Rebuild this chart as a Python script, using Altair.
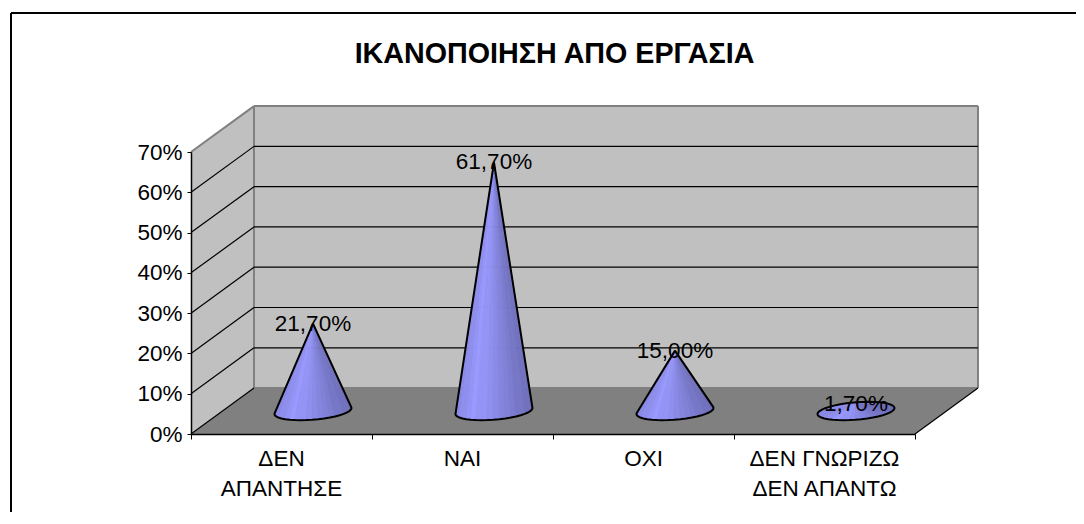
import math
import altair as alt
import pandas as pd

categories = ["ΔΕΝ\nΑΠΑΝΤΗΣΕ", "ΝΑΙ", "ΟΧΙ", "ΔΕΝ ΓΝΩΡΙΖΩ\nΔΕΝ ΑΠΑΝΤΩ"]
values = [21.7, 61.7, 15.0, 1.7]
value_labels = ["21,70%", "61,70%", "15,00%", "1,70%"]
y_ticks = [0, 10, 20, 30, 40, 50, 60, 70]
x_ticks = [0, 1, 2, 3, 4]
title_text = "ΙΚΑΝΟΠΟΙΗΣΗ ΑΠΟ ΕΡΓΑΣΙΑ"

# plot box: the front face of the 3-D chart
W, H = 724, 282
XMAX, YMAX = 4, 70
DX = 0.348   # depth offset in category units
DY = 11.4    # depth offset in percent units
PX = XMAX / W
PY = YMAX / H

x_scale = alt.Scale(domain=[0, XMAX], nice=False, zero=False)
y_scale = alt.Scale(domain=[0, YMAX], nice=False, zero=False)
x_axis = alt.Axis(values=x_ticks, labels=False, title=None, grid=False, domainColor="#000000",
                  domainWidth=1.5, tickColor="#000000", tickSize=5, tickWidth=1, zindex=1)
y_axis = alt.Axis(values=y_ticks, labelExpr="datum.value + '%'", title=None, grid=False,
                  domainColor="#000000", domainWidth=1.5, tickColor="#000000", tickSize=4, tickWidth=1,
                  labelFont="Liberation Sans", labelFontSize=22.5, labelColor="#000000", labelPadding=5, zindex=1)
X = alt.X("x:Q", scale=x_scale, axis=x_axis)
Y = alt.Y("y:Q", scale=y_scale, axis=y_axis)
Y2 = alt.Y2("y2:Q")


def band(points, fill):
    df = pd.DataFrame(points, columns=["x", "y", "y2"])
    return alt.Chart(df).mark_area(fill=fill, opacity=1).encode(x=X, y=Y, y2=Y2)


def segs(rows, color, sw):
    df = pd.DataFrame(rows, columns=["x", "y", "seg", "o"])
    return alt.Chart(df).mark_line(color=color, strokeWidth=sw).encode(
        x=X, y=Y, detail="seg:N", order="o:Q")


def seg_rows(lines):
    out = []
    for i, (a, b, c, d) in enumerate(lines):
        out += [(a, b, i, 0), (c, d, i, 1)]
    return out


back = band([(DX, DY, YMAX + DY), (XMAX + DX, DY, YMAX + DY)], "#C0C0C0")
side = band([(0, 0, YMAX), (DX, DY, YMAX + DY)], "#C0C0C0")
floor = band([(0, 0, 0), (DX, DY, 0), (XMAX, DY, 0), (XMAX + DX, DY, DY)], "#808080")

gray_lines = segs(seg_rows([
    (DX, YMAX + DY, XMAX + DX, YMAX + DY),
    (XMAX + DX, YMAX + DY, XMAX + DX, DY),
    (DX, YMAX + DY, DX, DY),
    (0, YMAX, DX, YMAX + DY),
    (DX, DY, XMAX + DX, DY),
]), "#808080", 2)
grid_rows = []
for t in y_ticks[1:-1]:
    grid_rows += [(0, t, DX, t + DY), (DX, t + DY, XMAX + DX, t + DY)]
grid = segs(seg_rows(grid_rows), "#000000", 1.2)
floor_edges = segs(seg_rows([(0, 0, DX, DY), (XMAX, 0, XMAX + DX, DY)]), "#000000", 1.2)

# cones
A = 36.4 * PX
K = 0.2
N = 40
facets, outlines = [], []
for c, v in enumerate(values):
    cx, cy = c + 0.5 + DX / 2, DY / 2
    apex = (cx, cy + v)
    ring = []
    for i in range(N):
        t = 2 * math.pi * i / N
        ring.append((cx + A * math.cos(t) + K * DX * math.sin(t), cy + K * DY * math.sin(t)))
    x_lo, x_hi = min(p[0] for p in ring), max(p[0] for p in ring)
    vis = []
    for i in range(N):
        p, q = ring[i], ring[(i + 1) % N]
        cross = (p[0] - apex[0]) * (q[1] - apex[1]) - (p[1] - apex[1]) * (q[0] - apex[0])
        if cross > 0:
            vis.append(i)
    for i in vis:
        p, q = ring[i], ring[(i + 1) % N]
        u = ((p[0] + q[0]) / 2 - x_lo) / (x_hi - x_lo)
        u = round(u * 12) / 12
        if u < 0.25:
            f = u / 0.25
            r, b = 138 + 15 * f, 232 + 23 * f
        else:
            f = (u - 0.25) / 0.75
            r, b = 153 - 43 * f, 255 - 70 * f
        col = "#%02x%02x%02x" % (int(r), int(r), int(b))
        tri = sorted([apex, p, q])
        (x0, y0), (x1, y1), (x2, y2_) = tri
        ymid = y0 + (y2_ - y0) * (x1 - x0) / (x2 - x0) if x2 > x0 else y1
        fid = f"{c}-{i}"
        facets += [
            dict(x=x0, y=y0, y2=y0, fid=fid, col=col),
            dict(x=x1, y=y1, y2=ymid, fid=fid, col=col),
            dict(x=x2, y=y2_, y2=y2_, fid=fid, col=col),
        ]
    if len(vis) == N:
        path = [ring[i] for i in range(N)] + [ring[0]]
    else:
        start = next(i for i in vis if (i - 1) % N not in vis)
        path = [apex] + [ring[(start + j) % N] for j in range(len(vis) + 1)] + [apex]
    outlines += [dict(x=a, y=b, seg=c, o=j) for j, (a, b) in enumerate(path)]

cones = alt.Chart(pd.DataFrame(facets)).mark_area(strokeWidth=0.6, opacity=1).encode(
    x=X, y=Y, y2=Y2, detail="fid:N",
    fill=alt.Fill("col:N", scale=None), stroke=alt.Stroke("col:N", scale=None))
outline = alt.Chart(pd.DataFrame(outlines)).mark_line(color="#000000", strokeWidth=2, strokeJoin="round").encode(
    x=X, y=Y, detail="seg:N", order="o:Q")

label_df = pd.DataFrame({
    "x": [i + 0.5 + DX / 2 for i in range(4)],
    "y": [DY / 2 + v for v in values],
    "t": value_labels,
})
labels = alt.Chart(label_df).mark_text(font="Liberation Sans", fontSize=22.5, color="#000000", baseline="middle").encode(
    x=X, y=Y, text="t:N")

cat_df = pd.DataFrame({"x": [i + 0.5 for i in range(4)], "y": [-3.55] * 4, "t": categories})
cat_labels = alt.Chart(cat_df).mark_text(font="Liberation Sans", fontSize=22.5, color="#000000", baseline="top",
                                         lineBreak="\n", lineHeight=30).encode(x=X, y=Y, text="t:N")

title_df = pd.DataFrame({"x": [(554.5 - 191) * PX], "y": [(434 - 54) * PY], "t": [title_text]})
title = alt.Chart(title_df).mark_text(font="Liberation Sans", fontSize=28.7, fontWeight="bold", color="#000000",
                                      baseline="middle").encode(x=X, y=Y, text="t:N")

frame = segs(seg_rows([
    (-180 * PX, (282 + 139) * PY, (1084 - 191) * PX, (282 + 139) * PY),
    (-180 * PX, (282 + 139) * PY, -180 * PX, -90 * PY),
]), "#000000", 2)

chart = alt.layer(
    frame, back, side, floor, gray_lines, grid, floor_edges, cones, outline, labels, cat_labels, title
).properties(
    width=W, height=H,
    padding={"left": 183, "top": 144, "right": 161, "bottom": 78},
    autosize=alt.AutoSizeParams(type="none"),
).configure_view(stroke=None).configure(background="white")

chart.save("out.html", embed_options={"renderer": "svg", "actions": False})
